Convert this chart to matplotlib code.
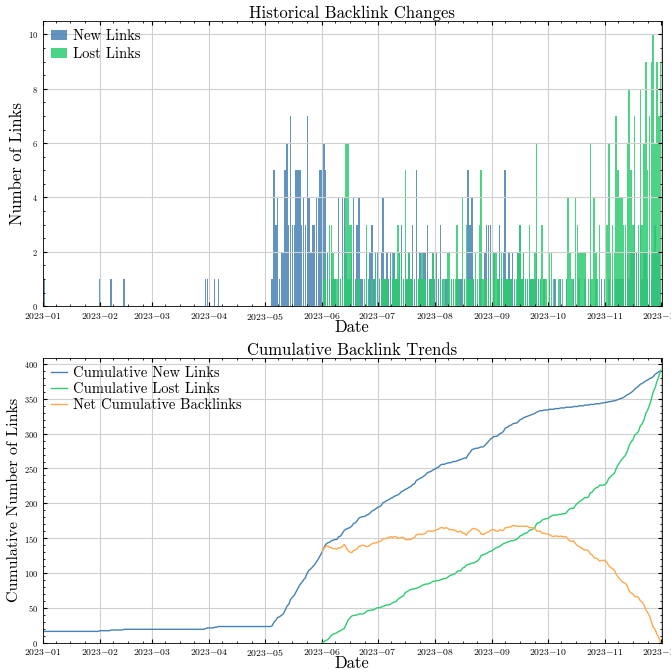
import numpy as np
import pandas as pd
import matplotlib
matplotlib.use("Agg")
import matplotlib.pyplot as plt
import matplotlib.dates as mdates

# daily new links per month (2023)
new_jan = [0, 1] + [0] * 29
new_feb = [1, 0, 0, 0, 0, 0, 1, 0, 0, 0, 0, 0, 0, 1] + [0] * 14
new_mar = [0] * 29 + [1, 1]
new_apr = [0, 0, 0, 1, 0, 1] + [0] * 24
new_may = [0, 0, 0, 0, 1, 5, 3, 4, 1, 2, 2, 5, 6, 3, 7, 3, 3, 5, 5, 5, 3, 4, 3, 7, 4, 2, 3, 3, 4, 4, 5]
new_jun = [5, 6, 5, 2, 1, 2, 1, 1, 0, 4, 1, 4, 4, 2, 1, 1, 2, 4, 1, 3, 4, 1, 1, 0, 2, 1, 2, 3, 1, 2]
new_jul = [2, 1, 2, 4, 1, 2, 1, 2, 1, 2, 1, 1, 2, 3, 1, 2, 1, 2, 1, 3, 1, 5, 1, 2, 1, 2, 2, 3, 1, 1, 2]
new_aug = [1, 2, 1, 3, 1, 0, 1, 1, 0, 1, 1, 0, 1, 1, 1, 1, 1, 0, 5, 3, 4, 1, 1, 0, 1, 1, 0, 2, 3, 3, 3]
new_sep = [2, 2, 0, 1, 3, 1, 2, 5, 1, 2, 1, 2, 1, 0, 2, 3, 1, 2, 1, 1, 1, 1, 1, 1, 2, 1, 1, 0, 1, 0]
new_oct = [0, 1, 0, 0, 1, 0, 0, 1, 0, 0, 1, 0, 0, 0, 1, 0, 0, 1, 0, 0, 1, 0, 0, 1, 0, 0, 1, 0, 0, 1, 0]
new_nov = [1, 0, 1, 0, 1, 0, 1, 1, 1, 1, 1, 2, 2, 1, 2, 2, 3, 2, 2, 3, 1, 2, 2, 1, 2, 1, 2, 3, 2, 2]
new_dec = [1]

# daily lost links per month (starting June 1)
lost_jun = [0, 1, 2, 1, 3, 3, 2, 1, 1, 2, 1, 2, 1, 6, 6, 3, 3, 1, 0, 1, 1, 0, 0, 1, 3, 1, 0, 1, 0, 2]
lost_jul = [1, 0, 1, 1, 1, 1, 0, 1, 2, 1, 1, 3, 2, 2, 1, 5, 1, 2, 1, 1, 0, 1, 1, 1, 2, 1, 1, 0, 1, 1, 2]
lost_aug = [0, 1, 0, 1, 1, 1, 0, 2, 2, 1, 1, 1, 3, 1, 0, 4, 1, 3, 1, 1, 1, 0, 2, 1, 3, 5, 1, 1, 1, 2, 1]
lost_sep = [1, 2, 2, 1, 1, 2, 2, 1, 1, 1, 1, 0, 1, 1, 2, 3, 1, 2, 1, 1, 3, 1, 1, 2, 6, 1, 1, 3, 1, 1]
lost_oct = [0, 2, 2, 1, 0, 0, 1, 0, 1, 0, 1, 4, 2, 1, 0, 4, 3, 2, 2, 2, 2, 0, 1, 6, 1, 4, 2, 1, 3, 0, 0]
lost_nov = [1, 3, 6, 2, 3, 2, 7, 5, 4, 4, 3, 3, 6, 8, 5, 3, 7, 2, 3, 8, 3, 6, 9, 5, 7, 9, 10, 6, 9, 7]
lost_dec = [9]

initial_links = 15  # links already present before 2023

new_counts = np.array(new_jan + new_feb + new_mar + new_apr + new_may + new_jun + new_jul
                      + new_aug + new_sep + new_oct + new_nov + new_dec)
lost_counts = np.array(lost_jun + lost_jul + lost_aug + lost_sep + lost_oct + lost_nov + lost_dec)

new_dates = pd.date_range("2023-01-01", periods=len(new_counts), freq="D")
lost_dates = pd.date_range("2023-06-01", periods=len(lost_counts), freq="D")

new_df = pd.DataFrame({"date": new_dates, "count": new_counts})
lost_df = pd.DataFrame({"date": lost_dates, "count": lost_counts})
new_df["cum"] = new_df["count"].cumsum() + initial_links
lost_df["cum"] = lost_df["count"].cumsum()
net_df = lost_df.merge(new_df, on="date", suffixes=("_lost", "_new"))
net_df["net"] = net_df["cum_new"] - net_df["cum_lost"]

plt.rcParams.update({
    "font.family": "serif",
    "font.serif": ["cmr10"],
    "mathtext.fontset": "cm",
    "axes.formatter.use_mathtext": True,
    "xtick.direction": "in",
    "ytick.direction": "in",
    "xtick.top": True,
    "ytick.right": True,
    "xtick.minor.visible": True,
    "ytick.minor.visible": True,
    "xtick.major.size": 3,
    "ytick.major.size": 3,
    "xtick.minor.size": 1.5,
    "ytick.minor.size": 1.5,
    "xtick.labelsize": 7,
    "ytick.labelsize": 6,
    "axes.linewidth": 0.6,
    "grid.color": "#d0d0d0",
    "grid.linewidth": 0.8,
})

blue = "#4682b4"
green = "#2ecc71"
orange = "#ffa94d"

fig = plt.figure(figsize=(6.71, 6.70), dpi=100)
ax1 = fig.add_axes([0.0636, 0.543, 0.923, 0.426])
ax2 = fig.add_axes([0.0636, 0.041, 0.923, 0.425])

nz_new = new_df[new_df["count"] > 0]
nz_lost = lost_df[lost_df["count"] > 0]
ax1.bar(nz_new["date"], nz_new["count"], width=0.8, color=blue, alpha=0.85, label="New Links")
ax1.bar(nz_lost["date"], nz_lost["count"], width=0.8, color=green, alpha=0.85, label="Lost Links")
ax1.set_title("Historical Backlink Changes", fontsize=12, pad=2)
ax1.set_xlabel("Date", fontsize=12, labelpad=-2)
ax1.set_ylabel("Number of Links", fontsize=12, labelpad=2)
ax1.legend(loc="upper left", fontsize=10.5, frameon=False, handlelength=1.1,
           borderaxespad=0.2, labelspacing=0.3, handletextpad=0.4)
ax1.grid(True)

ax2.plot(new_df["date"], new_df["cum"], color=blue, lw=1, label="Cumulative New Links")
ax2.plot(lost_df["date"], lost_df["cum"], color=green, lw=1, label="Cumulative Lost Links")
ax2.plot(net_df["date"], net_df["net"], color=orange, lw=1, label="Net Cumulative Backlinks")
ax2.set_title("Cumulative Backlink Trends", fontsize=12, pad=2)
ax2.set_xlabel("Date", fontsize=12, labelpad=-2)
ax2.set_ylabel("Cumulative Number of Links", fontsize=11.5, labelpad=2)
ax2.set_ylim(0, 409)
ax2.legend(loc="upper left", fontsize=10.5, frameon=False, handlelength=1.1,
           borderaxespad=0.2, labelspacing=0.15, handletextpad=0.4)
ax2.grid(True)

for ax in (ax1, ax2):
    ax.set_xlim(pd.Timestamp("2023-01-01"), pd.Timestamp("2023-12-01 18:00"))
    ax.xaxis.set_major_locator(mdates.MonthLocator())
    ax.xaxis.set_minor_locator(mdates.DayLocator(bymonthday=[8, 16, 24]))
    ax.xaxis.set_major_formatter(mdates.DateFormatter("$%Y{-}%m$"))

fig.savefig("out.png", dpi=100)
